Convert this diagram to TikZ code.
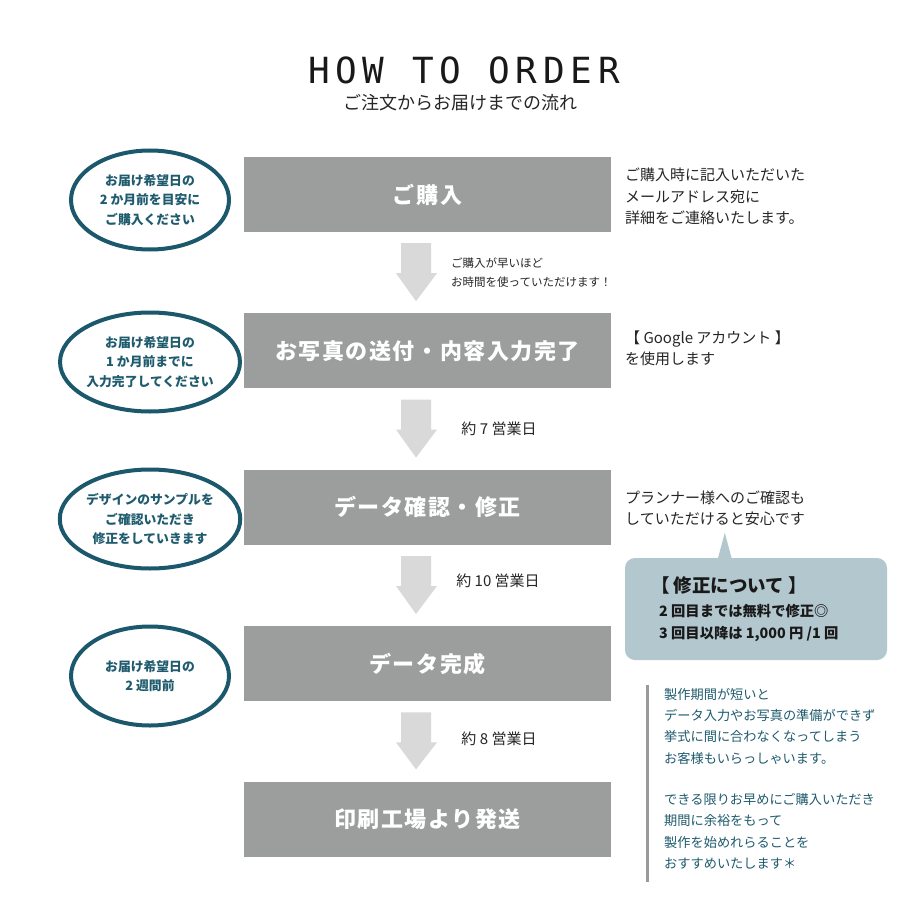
\documentclass[tikz,border=0pt]{standalone}
\usepackage{fontspec}
\setmainfont{Noto Sans CJK JP}
\newfontfamily\titlefont[LetterSpace=16]{DejaVu Sans Mono}
\newfontfamily\stepfont[LetterSpace=7]{Noto Sans CJK JP}
\usetikzlibrary{positioning,calc,shapes.geometric}

\newlength{\du}
\setlength{\du}{1pt}

\definecolor{stepgray}{HTML}{9C9E9E}
\definecolor{arrowgray}{HTML}{D9D9D9}
\definecolor{tealline}{HTML}{1B586B}
\definecolor{tealtext}{HTML}{1F5B6E}
\definecolor{noteblue}{HTML}{B3C7CF}
\definecolor{bargray}{HTML}{9A9A9A}

\tikzset{
  stepbox/.style={fill=stepgray, minimum width=367\du, minimum height=75\du, inner sep=0pt,
    text=white, font=\stepfont\bfseries\fontsize{22}{26}\selectfont},
  dateoval/.style={ellipse, draw=tealline, line width=4\du, minimum width=158\du,
    minimum height=99\du, inner sep=0pt, align=center, text=tealtext,
    font=\bfseries\fontsize{12.8}{19.5}\selectfont},
  sidenote/.style={anchor=west, align=left, inner sep=0pt, text=black!85,
    font=\fontsize{15}{21.5}\selectfont},
  daylabel/.style={inner sep=0pt, text=black!85, font=\fontsize{15}{18}\selectfont},
  tipnote/.style={anchor=west, align=left, inner sep=0pt, text=black!85,
    font=\fontsize{11.5}{19}\selectfont},
  advice/.style={anchor=north west, align=left, inner sep=0pt, text=tealtext,
    font=\fontsize{13.2}{21.3}\selectfont},
}

% block arrow from one step box down to the next
\newcommand{\flowarrow}[2]{%
  \fill[arrowgray] ($(#1.south)+(-26.5,11)$) -- ($(#1.south)+(3.5,11)$)
    -- ($(#1.south)+(3.5,41)$) -- ($(#1.south)+(9.5,41)$)
    -- ($(#2.north)+(-11.5,-12)$)
    -- ($(#1.south)+(-31.5,41)$) -- ($(#1.south)+(-26.5,41)$) -- cycle;}

\begin{document}
\begin{tikzpicture}[x=1\du,y=-1\du]
\useasboundingbox[fill=white] (0,0) rectangle (920,920);

% title
\node[font=\titlefont\fontsize{36}{40}\selectfont, text=black!90] (title) at (464,70) {HOW TO ORDER};
\node[font=\fontsize{18}{22}\selectfont, text=black!85] (subtitle) at (460,103) {ご注文からお届けまでの流れ};

% steps
\node[stepbox] (buy) at (427.5,194.5) {ご購入};
\node[stepbox, below=81\du of buy] (photo) {お写真の送付・内容入力完了};
\node[stepbox, below=81\du of photo] (check) {データ確認・修正};
\node[stepbox, below=81\du of check] (done) {データ完成};
\node[stepbox, below=80\du of done] (ship) {印刷工場より発送};

\flowarrow{buy}{photo}
\flowarrow{photo}{check}
\flowarrow{check}{done}
\flowarrow{done}{ship}

% labels beside the arrows
\node[tipnote] (tip) at (451,272.5) {ご購入が早いほど\\お時間を使っていただけます！};
\node[daylabel] (days7) at (499,429) {約 7 営業日};
\node[daylabel] (days10) at (498,581) {約 10 営業日};
\node[daylabel] (days8) at (499,739) {約 8 営業日};

% deadlines
\node[dateoval] (due1) at (150,200) {お届け希望日の\\2 か月前を目安に\\ご購入ください};
\node[dateoval] (due2) at (150,362) {お届け希望日の\\1 か月前までに\\入力完了してください};
\node[dateoval] (due3) at (150,519) {デザインのサンプルを\\ご確認いただき\\修正をしていきます};
\node[dateoval] (due4) at (150,676) {お届け希望日の\\2 週間前};

% notes on the right
\node[sidenote] (mail) at (625,196.5) {ご購入時に記入いただいた\\メールアドレス宛に\\詳細をご連絡いたします。};
\node[sidenote] (google) at (625,348.5) {【 Google アカウント 】\\を使用します};
\node[sidenote] (planner) at (625,508.5) {プランナー様へのご確認も\\していただけると安心です};

% callout
\node[fill=noteblue, rounded corners=10\du, minimum width=262\du, minimum height=102\du] (fix) at (756,609) {};
\fill[noteblue] ($(fix.north west)+(93,1)$) -- ($(fix.north west)+(100,-25)$) -- ($(fix.north west)+(107,1)$) -- cycle;
\node[anchor=west, inner sep=0pt, text=black!90, font=\bfseries\fontsize{18.5}{20}\selectfont] (fixtitle) at (651,585) {【 修正について 】};
\node[anchor=west, align=left, inner sep=0pt, text=black!90, font=\bfseries\fontsize{14.3}{22}\selectfont] (fixtext) at (659,623) {2 回目までは無料で修正◎\\3 回目以降は 1,000 円 /1 回};

% advice
\coordinate (bartop) at (647,685);
\coordinate (barbottom) at (647,882);
\draw[bargray, line width=3\du] (bartop) -- (barbottom);
\node[advice] (advice) at (664,688) {製作期間が短いと\\データ入力やお写真の準備ができず\\挙式に間に合わなくなってしまう\\お客様もいらっしゃいます。\\[20\du]できる限りお早めにご購入いただき\\期間に余裕をもって\\製作を始めれらることを\\おすすめいたします＊};
\end{tikzpicture}
\end{document}
